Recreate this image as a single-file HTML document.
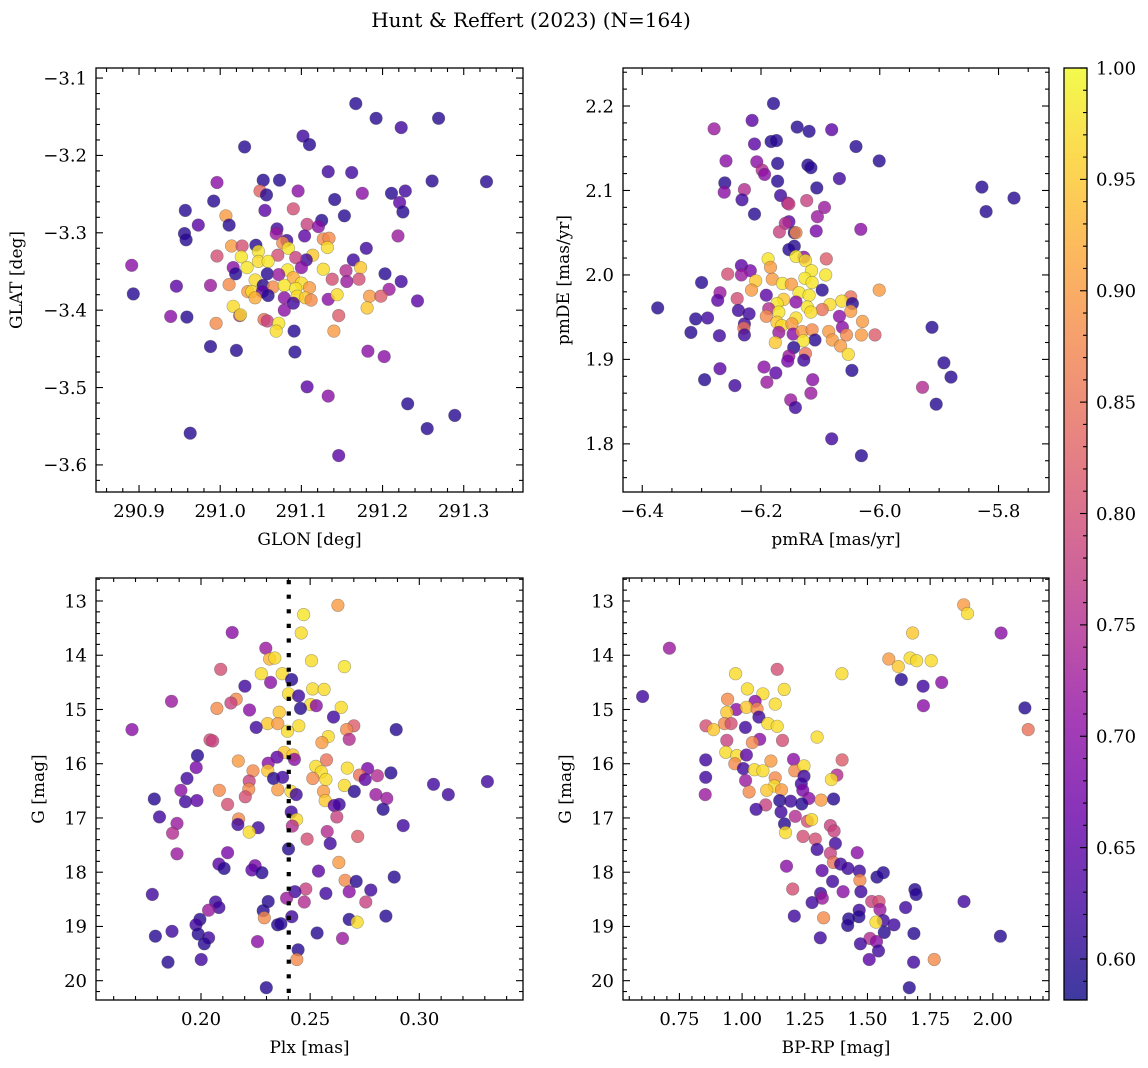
<!DOCTYPE html>
<html><head><meta charset="utf-8"><title>Hunt & Reffert (2023)</title>
<style>
html,body{margin:0;padding:0;background:#fff;}
svg{display:block;font-family:"DejaVu Serif","Liberation Serif",serif;}
</style></head>
<body>
<svg id="fig" width="1148" height="1068" viewBox="0 0 1148 1068" xmlns="http://www.w3.org/2000/svg">
<text x="531" y="27" text-anchor="middle" font-size="20">Hunt &amp; Reffert (2023) (N=164)</text>
</svg>
<script>
// ---------- Panel 1: GLON / GLAT ----------
const glon=[291.167,291.192,291.223,291.269,291.102,291.110,291.030,291.133,291.162,291.053,291.073,291.261,291.328,290.996,291.049,291.057,291.096,291.175,291.211,291.228,290.992,291.141,291.221,290.957,291.055,291.090,291.225,291.153,291.007,291.011,290.973,291.107,291.125,291.121,290.956,290.958,291.070,291.069,291.104,291.219,291.127,291.134,291.082,291.077,291.044,291.014,291.027,291.132,291.084,291.180,291.047,291.026,290.996,291.071,291.114,291.106,291.047,291.059,291.093,291.164,290.891,291.016,291.033,291.083,291.100,291.127,291.173,291.019,291.058,291.072,291.155,291.203,291.223,291.043,291.090,291.100,291.138,291.156,291.171,290.946,290.988,291.011,291.053,291.065,291.079,291.093,291.110,291.034,291.039,291.052,291.208,290.893,291.059,291.079,291.095,291.105,291.043,291.112,291.133,291.144,291.184,291.198,291.090,291.243,291.016,291.079,291.181,290.939,290.959,291.024,291.025,291.146,291.054,291.058,290.995,291.072,291.069,291.091,291.140,290.988,291.020,291.092,291.182,291.202,291.107,291.133,291.231,291.289,291.255,290.963,291.146];
const glat=[-3.133,-3.152,-3.164,-3.152,-3.175,-3.186,-3.189,-3.221,-3.222,-3.232,-3.232,-3.233,-3.234,-3.235,-3.246,-3.251,-3.246,-3.249,-3.249,-3.246,-3.259,-3.257,-3.261,-3.271,-3.271,-3.269,-3.273,-3.278,-3.278,-3.290,-3.290,-3.289,-3.284,-3.292,-3.301,-3.309,-3.295,-3.301,-3.304,-3.304,-3.308,-3.307,-3.310,-3.313,-3.316,-3.317,-3.317,-3.319,-3.320,-3.320,-3.324,-3.331,-3.330,-3.329,-3.329,-3.335,-3.337,-3.337,-3.332,-3.335,-3.342,-3.345,-3.345,-3.348,-3.345,-3.347,-3.345,-3.353,-3.353,-3.354,-3.349,-3.353,-3.363,-3.361,-3.358,-3.365,-3.360,-3.363,-3.360,-3.369,-3.368,-3.367,-3.368,-3.370,-3.368,-3.372,-3.371,-3.376,-3.376,-3.376,-3.373,-3.379,-3.381,-3.384,-3.382,-3.384,-3.384,-3.387,-3.386,-3.380,-3.382,-3.382,-3.391,-3.388,-3.395,-3.400,-3.397,-3.408,-3.409,-3.407,-3.406,-3.407,-3.412,-3.414,-3.417,-3.417,-3.427,-3.427,-3.427,-3.447,-3.452,-3.454,-3.453,-3.460,-3.499,-3.511,-3.521,-3.536,-3.553,-3.559,-3.588];
const prob1=[.6,.6,.62,.6,.62,.6,.6,.62,.62,.6,.6,.6,.6,.7,.83,.6,.7,.7,.6,.62,.6,.6,.65,.6,.65,.8,.6,.6,.9,.6,.65,.78,.6,.7,.6,.6,.62,.72,.65,.72,.88,.88,.62,.88,.6,.9,.8,.97,.98,.62,.98,.98,.8,.8,.95,.62,.97,.98,.78,.62,.7,.7,.98,.98,.7,.97,.95,.6,.6,.72,.75,.6,.62,.97,.92,.97,.8,.72,.8,.65,.72,.88,.6,.88,.98,.98,.9,.9,.97,.65,.72,.6,.6,.7,.97,.95,.92,.88,.7,.97,.9,.82,.62,.65,.97,.7,.95,.7,.6,.75,.97,.82,.85,.78,.88,.98,.97,.6,.9,.6,.6,.6,.7,.7,.65,.7,.6,.6,.6,.6,.65];
const xTicks1=[290.9,291.0,291.1,291.2,291.3];
const yTicks1=[-3.1,-3.2,-3.3,-3.4,-3.5,-3.6];

// ---------- Panel 2: pmRA / pmDE ----------
const pmra=[-6.179,-6.215,-6.279,-6.139,-6.119,-6.081,-6.183,-6.174,-6.211,-6.040,-6.259,-6.207,-6.172,-6.121,-6.116,-6.001,-6.198,-6.194,-6.261,-6.172,-6.068,-6.262,-6.228,-6.106,-5.828,-5.774,-6.167,-6.232,-6.123,-6.155,-6.153,-6.093,-6.105,-5.821,-6.211,-6.153,-6.159,-6.169,-6.144,-6.141,-6.107,-6.032,-6.144,-6.153,-6.128,-6.188,-6.141,-6.125,-6.090,-6.184,-6.233,-6.218,-6.256,-6.115,-6.091,-6.233,-6.300,-6.209,-6.181,-6.126,-6.114,-6.164,-6.149,-6.097,-6.001,-6.269,-6.216,-6.191,-6.136,-6.119,-6.273,-6.240,-6.162,-6.141,-6.049,-6.064,-6.084,-6.046,-6.374,-6.173,-6.122,-6.097,-6.187,-6.238,-6.220,-6.170,-6.116,-6.049,-6.310,-6.290,-6.191,-6.068,-6.141,-6.173,-6.029,-6.228,-6.165,-6.148,-6.063,-5.912,-6.318,-6.270,-6.229,-6.228,-6.170,-6.146,-6.131,-6.114,-6.086,-6.056,-6.031,-6.008,-6.109,-6.080,-6.176,-6.129,-6.066,-6.145,-6.125,-6.053,-6.153,-6.155,-6.128,-5.892,-6.047,-6.195,-6.269,-6.175,-5.880,-6.295,-6.113,-6.190,-6.244,-5.928,-6.116,-6.150,-5.905,-6.142,-6.081,-6.031];
const pmde=[2.203,2.183,2.173,2.175,2.170,2.172,2.158,2.159,2.155,2.152,2.135,2.134,2.132,2.130,2.127,2.135,2.124,2.119,2.109,2.111,2.114,2.098,2.101,2.103,2.104,2.091,2.094,2.089,2.088,2.085,2.084,2.080,2.069,2.075,2.072,2.063,2.061,2.051,2.050,2.050,2.052,2.054,2.034,2.030,2.021,2.019,2.022,2.017,2.019,2.009,2.011,2.005,2.001,2.005,2.000,2.000,1.991,1.993,1.995,1.996,1.991,1.990,1.989,1.982,1.982,1.979,1.982,1.976,1.979,1.976,1.970,1.972,1.971,1.968,1.974,1.969,1.965,1.966,1.961,1.966,1.962,1.959,1.960,1.958,1.954,1.956,1.956,1.957,1.948,1.949,1.951,1.951,1.949,1.944,1.945,1.942,1.940,1.942,1.938,1.938,1.932,1.928,1.937,1.929,1.932,1.930,1.933,1.935,1.933,1.929,1.929,1.929,1.923,1.923,1.920,1.922,1.916,1.914,1.907,1.906,1.904,1.898,1.899,1.896,1.887,1.891,1.889,1.884,1.879,1.876,1.876,1.873,1.869,1.867,1.860,1.852,1.847,1.843,1.806,1.786];
const prob2=[.6,.65,.72,.6,.6,.65,.6,.6,.65,.6,.7,.7,.6,.6,.6,.6,.75,.7,.6,.6,.62,.7,.75,.6,.6,.6,.62,.62,.78,.72,.78,.72,.72,.6,.6,.65,.75,.78,.6,.88,.68,.7,.6,.6,.7,.98,.98,.97,.82,.9,.65,.68,.8,.98,.98,.72,.6,.95,.9,.98,.98,.98,.9,.6,.9,.72,.9,.65,.98,.98,.65,.8,.95,.7,.85,.97,.97,.6,.6,.98,.98,.85,.75,.62,.62,.98,.97,.9,.6,.62,.88,.7,.97,.95,.9,.62,.97,.9,.7,.6,.6,.62,.85,.62,.72,.7,.9,.88,.9,.88,.9,.82,.6,.9,.95,.98,.9,.6,.85,.97,.72,.68,.62,.6,.6,.7,.65,.65,.6,.6,.7,.72,.62,.75,.72,.72,.6,.62,.62,.6];
const xTicks2=[-6.4,-6.2,-6.0,-5.8];
const yTicks2=[1.8,1.9,2.0,2.1,2.2];

// ---------- Panel 3: Plx / G ----------
const plx=[0.2627,0.2470,0.2459,0.2143,0.2297,0.2314,0.2338,0.2506,0.2657,0.2090,0.2276,0.2372,0.2415,0.2319,0.2201,0.2511,0.2564,0.2401,0.2447,0.1865,0.2161,0.2137,0.2502,0.2528,0.2642,0.2456,0.2073,0.2222,0.2358,0.2607,0.2305,0.2352,0.2448,0.2253,0.2700,0.2667,0.1684,0.2894,0.2396,0.2583,0.2679,0.2041,0.2053,0.2554,0.1984,0.2381,0.2421,0.2348,0.2428,0.2171,0.2575,0.2308,0.1978,0.2526,0.2670,0.2238,0.2306,0.2763,0.2870,0.2551,0.1936,0.2332,0.2374,0.2512,0.2572,0.2726,0.2752,0.2808,0.2221,0.3065,0.3312,0.1908,0.2084,0.2219,0.2352,0.2412,0.2561,0.2657,0.2702,0.2436,0.3133,0.2801,0.1786,0.1929,0.1981,0.2122,0.2203,0.2569,0.2610,0.2633,0.2851,0.2834,0.1810,0.2413,0.2622,0.2172,0.2169,0.2438,0.1890,0.2262,0.2418,0.2926,0.2221,0.1870,0.2578,0.2486,0.2718,0.2592,0.1890,0.2122,0.2401,0.2631,0.2082,0.2106,0.2248,0.2233,0.2279,0.2538,0.2885,0.2660,0.2711,0.2480,0.2430,0.2572,0.2679,0.2778,0.1777,0.2392,0.2473,0.2308,0.2755,0.2067,0.2082,0.2035,0.2285,0.2416,0.1995,0.2290,0.2679,0.2715,0.2847,0.1977,0.2351,0.2366,0.1867,0.1791,0.1987,0.2035,0.2015,0.2532,0.2259,0.2648,0.2445,0.2439,0.1849,0.2001,0.2299];
const gPlx=[13.08,13.25,13.59,13.58,13.87,14.07,14.05,14.10,14.21,14.26,14.34,14.34,14.45,14.50,14.57,14.62,14.63,14.71,14.75,14.85,14.81,14.88,14.91,14.93,14.96,14.98,14.98,15.01,15.05,15.14,15.26,15.26,15.30,15.33,15.30,15.37,15.37,15.37,15.40,15.50,15.55,15.56,15.58,15.61,15.85,15.79,15.84,15.88,15.92,15.95,15.93,15.99,16.07,16.05,16.08,16.13,16.13,16.09,16.17,16.15,16.27,16.27,16.25,16.27,16.29,16.21,16.29,16.22,16.32,16.38,16.33,16.49,16.49,16.47,16.48,16.51,16.51,16.40,16.51,16.57,16.57,16.57,16.65,16.70,16.68,16.75,16.61,16.68,16.77,16.75,16.64,16.84,16.98,16.89,16.98,17.02,17.12,17.03,17.10,17.18,17.15,17.14,17.26,17.28,17.25,17.39,17.34,17.47,17.66,17.64,17.57,17.82,17.85,17.93,17.88,17.96,18.01,17.98,18.09,18.15,18.17,18.31,18.36,18.39,18.36,18.33,18.41,18.48,18.55,18.54,18.55,18.55,18.65,18.70,18.71,18.82,18.87,18.84,18.87,18.92,18.81,18.97,18.97,18.95,19.09,19.18,19.14,19.21,19.32,19.12,19.28,19.22,19.43,19.61,19.66,19.61,20.13];
const prob3=[.9,.98,.97,.7,.72,.93,.97,.97,.98,.8,.97,.97,.6,.7,.62,.97,.97,.97,.62,.72,.88,.78,.97,.7,.97,.6,.88,.7,.95,.62,.95,.9,.97,.62,.82,.88,.7,.6,.97,.97,.75,.8,.78,.9,.6,.95,.95,.65,.7,.9,.85,.7,.68,.97,.97,.88,.95,.68,.6,.97,.62,.6,.62,.88,.97,.85,.65,.75,.78,.62,.62,.7,.88,.88,.9,.97,.9,.97,.6,.62,.62,.72,.6,.62,.65,.8,.8,.95,.65,.62,.72,.6,.62,.62,.78,.88,.62,.97,.72,.62,.75,.62,.97,.75,.75,.8,.82,.62,.72,.68,.6,.9,.65,.6,.68,.65,.6,.65,.6,.88,.6,.78,.62,.62,.7,.62,.62,.72,.75,.6,.78,.62,.62,.72,.6,.62,.6,.88,.6,.97,.6,.62,.6,.6,.62,.6,.6,.62,.6,.6,.7,.72,.6,.88,.6,.62,.6];
const xTicks3=[0.20,0.25,0.30];
const yTicks3=[13,14,15,16,17,18,19,20];
const plxRef=[0.2402];

// ---------- Panel 4: BP-RP / G ----------
const bprp=[1.884,1.899,1.680,2.033,0.710,1.585,1.670,1.696,1.754,1.623,1.140,0.974,1.398,1.635,1.722,1.796,1.021,1.168,1.083,0.603,1.723,0.942,1.052,1.132,0.977,1.017,1.060,0.939,2.128,1.067,0.856,0.930,0.956,1.013,1.103,1.140,0.886,2.141,1.299,0.939,1.070,1.041,1.161,0.935,0.979,1.017,0.855,1.115,1.205,1.399,0.971,1.005,1.049,1.083,1.210,1.247,1.132,1.247,1.378,1.356,0.855,1.014,1.236,1.129,1.098,1.157,1.028,1.242,0.853,1.266,1.315,1.365,1.150,1.194,1.238,1.094,1.056,1.155,1.212,1.261,1.277,1.169,1.352,1.367,1.173,1.243,1.292,1.372,1.299,1.352,1.459,1.177,1.364,1.393,1.422,1.319,1.468,1.538,1.563,1.361,1.470,1.202,1.403,1.474,1.689,1.694,1.313,1.320,1.517,1.546,1.279,1.550,1.885,1.652,1.208,1.325,1.467,1.466,1.425,1.563,1.534,1.421,1.606,1.567,1.685,2.030,1.312,1.510,1.472,1.536,1.544,1.507,1.684,1.766,1.667];
const gColor=[13.07,13.23,13.59,13.59,13.87,14.07,14.05,14.10,14.10,14.21,14.26,14.34,14.34,14.45,14.57,14.50,14.62,14.63,14.71,14.76,14.93,14.81,14.85,14.90,15.00,14.96,14.99,15.05,14.97,15.14,15.30,15.26,15.26,15.33,15.26,15.31,15.37,15.37,15.51,15.57,15.55,15.61,15.57,15.79,15.85,15.84,15.93,15.95,15.92,15.93,16.00,16.09,16.11,16.13,16.13,16.04,16.26,16.23,16.21,16.29,16.25,16.31,16.37,16.41,16.49,16.48,16.52,16.49,16.57,16.64,16.67,16.65,16.68,16.69,16.74,16.76,16.84,16.89,16.97,17.06,17.03,17.11,17.14,17.24,17.27,17.34,17.39,17.47,17.58,17.65,17.64,17.89,17.82,17.85,17.93,17.97,17.98,18.09,18.01,18.17,18.15,18.31,18.36,18.36,18.32,18.41,18.39,18.48,18.54,18.54,18.56,18.69,18.54,18.65,18.81,18.84,18.70,18.82,18.86,18.89,18.92,18.98,18.97,19.11,19.13,19.18,19.21,19.22,19.32,19.28,19.45,19.61,19.66,19.61,20.13];
const prob4=[.9,.97,.95,.7,.72,.9,.97,.97,.97,.95,.8,.97,.97,.6,.62,.7,.97,.97,.97,.62,.7,.88,.7,.97,.7,.95,.88,.95,.6,.62,.8,.88,.8,.62,.97,.97,.95,.85,.97,.78,.7,.88,.8,.97,.97,.65,.62,.9,.7,.82,.88,.62,.97,.97,.88,.97,.88,.62,.75,.97,.62,.72,.62,.97,.95,.9,.88,.68,.72,.7,.9,.6,.6,.62,.6,.78,.62,.62,.75,.8,.97,.6,.78,.78,.97,.8,.8,.62,.62,.78,.7,.7,.85,.62,.62,.65,.62,.6,.6,.62,.88,.8,.7,.62,.6,.6,.62,.72,.78,.8,.62,.72,.62,.62,.62,.88,.62,.6,.6,.62,.97,.6,.62,.6,.6,.6,.62,.75,.62,.7,.62,.65,.62,.88,.6];
const xTicks4=[0.75,1.00,1.25,1.50,1.75,2.00];
const yTicks4=[13,14,15,16,17,18,19,20];

// ---------- Colorbar ----------
const cbTicks=[0.60,0.65,0.70,0.75,0.80,0.85,0.90,0.95,1.00];
const cbRange=[0.5816,1.0];

const NS="http://www.w3.org/2000/svg";
const svg=document.getElementById('fig');
function el(tag,attrs,parent){const e=document.createElementNS(NS,tag);for(const k in attrs)e.setAttribute(k,attrs[k]);(parent||svg).appendChild(e);return e;}

const plasmaStops=[[0,13,8,135],[0.1,65,4,157],[0.2,106,0,168],[0.3,143,13,164],[0.4,177,42,144],[0.5,204,71,120],[0.6,225,100,98],[0.7,242,132,75],[0.8,252,166,54],[0.9,252,206,37],[1,240,249,33]];
function plasma(t){t=Math.max(0,Math.min(1,t));for(let i=1;i<plasmaStops.length;i++){const a=plasmaStops[i-1],b=plasmaStops[i];if(t<=b[0]){const f=(t-a[0])/(b[0]-a[0]);return 'rgb('+[1,2,3].map(j=>Math.round(a[j]+f*(b[j]-a[j]))).join(',')+')';}}return 'rgb(240,249,33)';}
function colorOf(p){return plasma((p-cbRange[0])/(cbRange[1]-cbRange[0]));}
function fmt(v,d){const s=Math.abs(v).toFixed(d);return (v<0?'\u2212':'')+s;}

function panel(o){
  const g=el('g',{});
  
  
  const sx=v=>o.x0+(v-o.xmin)/(o.xmax-o.xmin)*(o.x1-o.x0);
  const sy=o.yinv?(v=>o.y0+(v-o.ymin)/(o.ymax-o.ymin)*(o.y1-o.y0)):(v=>o.y1-(v-o.ymin)/(o.ymax-o.ymin)*(o.y1-o.y0));
  const clipId='clip-'+o.name;
  const cp=el('clipPath',{id:clipId},g);
  el('rect',{x:o.x0,y:o.y0,width:o.x1-o.x0,height:o.y1-o.y0},cp);
  const pts=el('g',{'clip-path':'url(#'+clipId+')'},g);
  
  
  for(let i=0;i<o.xs.length;i++){
    const c=el('circle',{cx:sx(o.xs[i]).toFixed(1),cy:sy(o.ys[i]).toFixed(1),r:6.3,fill:colorOf(o.cs[i]),'fill-opacity':0.8,stroke:'#444','stroke-opacity':0.45,'stroke-width':0.6},pts);
    
    
  }
  if(o.vline){for(const v of o.vline){const ln=el('line',{x1:sx(v),x2:sx(v),y1:o.y0+2,y2:o.y1,stroke:'#000','stroke-width':4.2,'stroke-dasharray':'4.2 10.4'},g);
    
    }}
  const fr=el('rect',{x:o.x0,y:o.y0,width:o.x1-o.x0,height:o.y1-o.y0,fill:'none',stroke:'#000','stroke-width':1.3},g);
  
  
  const step=o.xt[1]-o.xt[0];
  const tk=el('g',{stroke:'#000','stroke-width':1.1},g);
  
  
  for(let k=-o.xm*2;k<=(o.xt.length+1)*o.xm;k++){const v=o.xt[0]+k*step/o.xm;const x=sx(v);if(x<o.x0+0.5||x>o.x1-0.5)continue;const L=(k%o.xm===0)?7:4;
    el('line',{x1:x,x2:x,y1:o.y1,y2:o.y1-L},tk);el('line',{x1:x,x2:x,y1:o.y0,y2:o.y0+L},tk);}
  const ystep=o.yt[1]-o.yt[0];
  for(let k=-o.ym*2;k<=(o.yt.length+1)*o.ym;k++){const v=o.yt[0]+k*ystep/o.ym;const y=sy(v);if(y<o.y0+0.5||y>o.y1-0.5)continue;const L=(k%o.ym===0)?7:4;
    el('line',{x1:o.x0,x2:o.x0+L,y1:y,y2:y},tk);el('line',{x1:o.x1,x2:o.x1-L,y1:y,y2:y},tk);}
  for(const v of o.xt){const t=el('text',{x:sx(v),y:o.y1+25,'text-anchor':'middle','font-size':18},g);t.textContent=fmt(v,o.xd);
    }
  for(const v of o.yt){const t=el('text',{x:o.x0-9,y:sy(v)+6.3,'text-anchor':'end','font-size':18},g);t.textContent=fmt(v,o.yd);
    }
  const xl=el('text',{x:(o.x0+o.x1)/2,y:o.y1+53,'text-anchor':'middle','font-size':17},g);xl.textContent=o.xlabel;
  
  const yc=(o.y0+o.y1)/2;
  const yl=el('text',{x:o.ylx,y:yc,'text-anchor':'middle','font-size':17,transform:'rotate(-90 '+o.ylx+' '+yc+')'},g);yl.textContent=o.ylabel;
  
}

panel({name:'glon-glat-panel',x0:96,y0:68,x1:523,y1:492,xmin:290.847,xmax:291.373,ymin:-3.635,ymax:-3.087,xs:glon,ys:glat,cs:prob1,xt:xTicks1,yt:yTicks1,xm:5,ym:5,xd:1,yd:1,xlabel:'GLON [deg]',ylabel:'GLAT [deg]',ylx:22});
panel({name:'pm-panel',x0:623,y0:68,x1:1049,y1:492,xmin:-6.4324,xmax:-5.715,ymin:1.743,ymax:2.245,xs:pmra,ys:pmde,cs:prob2,xt:xTicks2,yt:yTicks2,xm:4,ym:5,xd:1,yd:1,xlabel:'pmRA [mas/yr]',ylabel:'pmDE [mas/yr]',ylx:569});
panel({name:'plx-g-panel',x0:96,y0:578,x1:523,y1:1000,xmin:0.1519,xmax:0.3475,ymin:12.576,ymax:20.356,yinv:true,xs:plx,ys:gPlx,cs:prob3,xt:xTicks3,yt:yTicks3,xm:5,ym:5,xd:2,yd:0,xlabel:'Plx [mas]',ylabel:'G [mag]',ylx:44,vline:plxRef});
panel({name:'cmd-panel',x0:623,y0:578,x1:1049,y1:1000,xmin:0.525,xmax:2.224,ymin:12.576,ymax:20.356,yinv:true,xs:bprp,ys:gColor,cs:prob4,xt:xTicks4,yt:yTicks4,xm:5,ym:5,xd:2,yd:0,xlabel:'BP-RP [mag]',ylabel:'G [mag]',ylx:571});

(function(){
  const x0=1064,x1=1087,y0=68,y1=1000;
  const g=el('g',{});
  
  
  const defs=el('defs',{},g);
  const lg=el('linearGradient',{id:'cbgrad',x1:0,y1:1,x2:0,y2:0},defs);
  for(let i=0;i<=20;i++){el('stop',{offset:(i/20),'stop-color':plasma(i/20),'stop-opacity':0.8},lg);}
  el('rect',{x:x0,y:y0,width:x1-x0,height:y1-y0,fill:'url(#cbgrad)'},g);
  el('rect',{x:x0,y:y0,width:x1-x0,height:y1-y0,fill:'none',stroke:'#000','stroke-width':1.3},g);
  const sy=v=>y1-(v-cbRange[0])/(cbRange[1]-cbRange[0])*(y1-y0);
  for(let k=58;k<=100;k++){const v=k/100;const y=sy(v);if(y<y0||y>y1)continue;const L=(k%5===0)?7:4;
    el('line',{x1:x1,x2:x1-L,y1:y,y2:y,stroke:'#000','stroke-width':1.1},g);}
  for(const v of cbTicks){const t=el('text',{x:1096,y:sy(v)+6.3,'font-size':18},g);t.textContent=v.toFixed(2);
    }
})();
</script>
</body></html>
